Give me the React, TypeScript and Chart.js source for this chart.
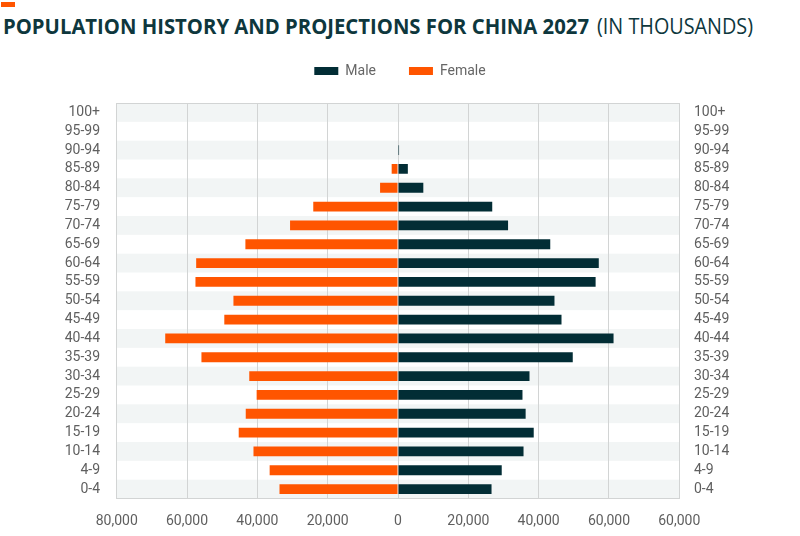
import React, { useEffect, useLayoutEffect, useRef } from "react";
import { Chart, registerables } from "chart.js";

Chart.register(...registerables);

// ---------- data ----------
const ageGroups = [
  "100+", "95-99", "90-94", "85-89", "80-84", "75-79", "70-74", "65-69", "60-64", "55-59",
  "50-54", "45-49", "40-44", "35-39", "30-34", "25-29", "20-24", "15-19", "10-14", "4-9", "0-4",
];
const maleValues = [
  0, 0, 300, 2800, 7200, 26800, 31300, 43300, 57100, 56200,
  44500, 46500, 61300, 49700, 37400, 35400, 36300, 38600, 35700, 29500, 26600,
];
const femaleValues = [
  0, 0, 0, 1800, 5100, 24100, 30700, 43400, 57400, 57600,
  46800, 49400, 66200, 55900, 42300, 40200, 43300, 45300, 41100, 36500, 33700,
];
const xTickLabels = [
  "80,000", "60,000", "40,000", "20,000", "0", "20,000", "40,000", "60,000", "60,000",
];
const seriesNames = ["Male", "Female"];
const titleMain = "POPULATION HISTORY AND PROJECTIONS FOR CHINA 2027";
const titleSub = "(IN THOUSANDS)";

// ---------- styles ----------
const MALE = "#022d35";
const FEMALE = "#ff5500";
const GRID = "#d2d4d4";
const BAND = "#f2f5f5";
const TICK = "#5f5f5f";
const TITLE_COLOR = "#0e373d";
const FONT = "Roboto";
const TITLE_FONT = '"Open Sans", Roboto, sans-serif';

const bandPlugin = {
  id: "rowBands",
  beforeDraw(chart: any) {
    const { ctx, chartArea } = chart;
    const y = chart.scales.y;
    const n = ageGroups.length;
    const step = Math.abs(y.getPixelForValue(1) - y.getPixelForValue(0));
    ctx.save();
    ctx.fillStyle = BAND;
    for (let i = 0; i < n; i += 2) {
      const c = y.getPixelForValue(i);
      ctx.fillRect(chartArea.left, c - step / 2, chartArea.right - chartArea.left, step);
    }
    ctx.restore();
  },
};

function fitWidth(el: HTMLElement | null, target: number) {
  if (!el) return;
  el.style.transform = "none";
  const w = el.getBoundingClientRect().width;
  if (w > 0) el.style.transform = `scaleX(${target / w})`;
}

export default function App() {
  const canvasRef = useRef<HTMLCanvasElement | null>(null);
  const mainRef = useRef<HTMLSpanElement | null>(null);
  const subRef = useRef<HTMLSpanElement | null>(null);

  useLayoutEffect(() => {
    fitWidth(mainRef.current, 586);
    fitWidth(subRef.current, 156);
  }, []);

  useEffect(() => {
    if (!canvasRef.current) return;
    Chart.defaults.font.family = FONT;
    const tickFont = { family: FONT, size: 14 };
    const chart = new Chart(canvasRef.current, {
      type: "bar",
      data: {
        labels: ageGroups,
        datasets: [
          {
            label: seriesNames[0],
            data: maleValues,
            backgroundColor: MALE,
            borderWidth: 0,
            barPercentage: 0.52,
            categoryPercentage: 1,
          },
          {
            label: seriesNames[1],
            data: femaleValues.map((v) => -v),
            backgroundColor: FEMALE,
            borderWidth: 0,
            barPercentage: 0.52,
            categoryPercentage: 1,
          },
        ],
      },
      options: {
        indexAxis: "y",
        responsive: false,
        animation: false,
        layout: { padding: { top: 31, left: 0, right: 0, bottom: 0 } },
        plugins: {
          legend: {
            position: "top",
            labels: {
              boxWidth: 24,
              boxHeight: 8,
              padding: 33,
              color: "#666666",
              font: { family: FONT, size: 14 },
            },
          },
          tooltip: { enabled: false },
          title: { display: false },
        },
        scales: {
          x: {
            type: "linear",
            position: "bottom",
            min: -80000,
            max: 80000,
            stacked: true,
            ticks: {
              stepSize: 20000,
              padding: 15,
              color: TICK,
              font: tickFont,
              maxRotation: 0,
              autoSkip: false,
              callback: (_v: any, i: number) => xTickLabels[i],
            },
            grid: { color: GRID, drawTicks: false, lineWidth: 1 },
            border: { display: true, color: GRID },
            afterFit: (s: any) => {
              s.height = 37.5;
            },
          },
          xTop: {
            type: "linear",
            position: "top",
            display: true,
            grid: { display: false, drawTicks: false },
            ticks: { display: false },
            border: { display: true, color: GRID },
            afterFit: (s: any) => {
              s.height = 15;
            },
          },
          y: {
            type: "category",
            position: "left",
            stacked: true,
            grid: { display: false, drawTicks: false },
            border: { display: true, color: GRID },
            ticks: { padding: 16.7, color: TICK, font: tickFont, autoSkip: false },
            afterFit: (s: any) => {
              s.width = 116.7;
            },
          },
          y2: {
            type: "category",
            position: "right",
            labels: ageGroups,
            offset: true,
            grid: { display: false, drawTicks: false },
            border: { display: true, color: GRID },
            ticks: { padding: 14.7, color: TICK, font: tickFont, autoSkip: false },
            afterFit: (s: any) => {
              s.width = 120.7;
            },
          },
        },
      } as any,
      plugins: [bandPlugin],
    });
    return () => chart.destroy();
  }, []);

  const titleBase: React.CSSProperties = {
    position: "absolute",
    top: 14,
    whiteSpace: "nowrap",
    fontFamily: TITLE_FONT,
    fontSize: 22,
    lineHeight: "22px",
    color: TITLE_COLOR,
    display: "inline-block",
    transformOrigin: "left center",
  };

  return (
    <div style={{ position: "absolute", left: 0, top: 0, width: 800, height: 536, background: "#fff" }}>
      <div style={{ position: "absolute", left: 1, top: 2, width: 14, height: 5, background: FEMALE }} />
      <span ref={mainRef} style={{ ...titleBase, left: 3, fontWeight: 700 }}>
        {titleMain}
      </span>
      <span ref={subRef} style={{ ...titleBase, left: 597, fontWeight: 400 }}>
        {titleSub}
      </span>
      <canvas
        ref={canvasRef}
        width={800}
        height={536}
        style={{ position: "absolute", left: 0, top: 0, width: 800, height: 536 }}
      />
    </div>
  );
}
